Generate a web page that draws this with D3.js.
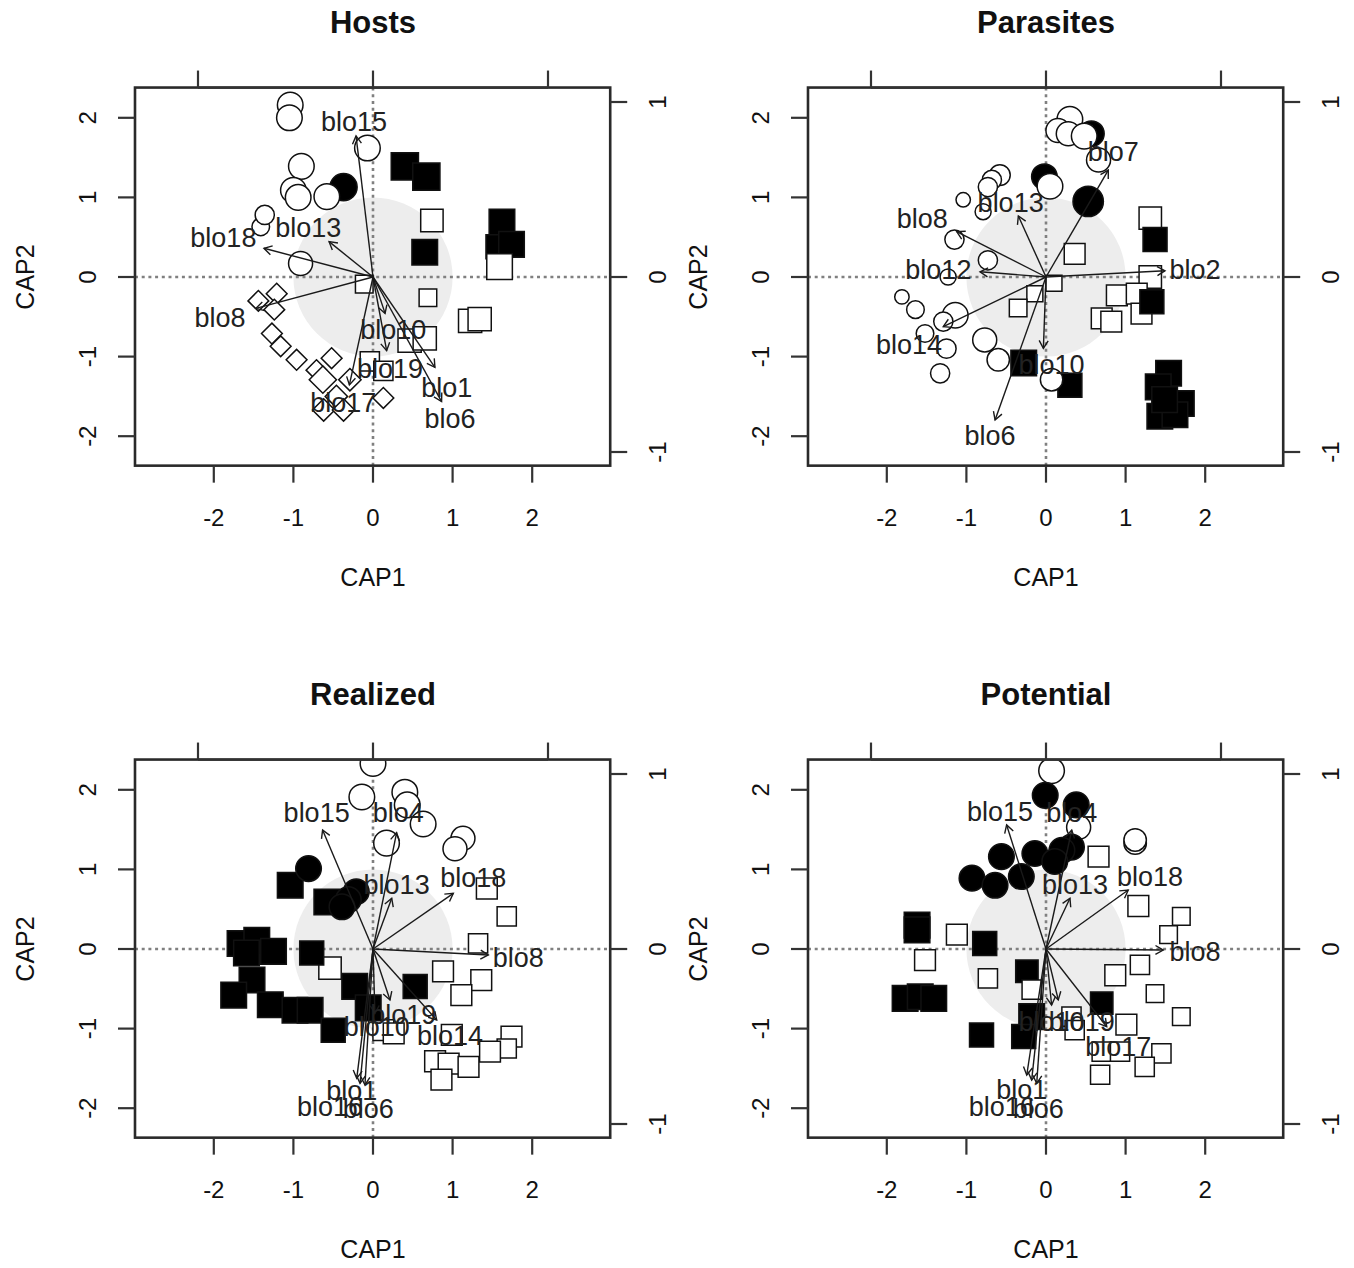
<!DOCTYPE html>
<meta charset="utf-8">
<title>CAP ordinations</title>
<body>
<script src="https://cdn.jsdelivr.net/npm/d3@7"></script>
<style>
html, body {
    margin: 0;
    background: #fff;
}
svg text {
    font-family: "Liberation Sans", Arial, Helvetica, sans-serif;
    fill: #111;
}
</style>
<script>
// site scores: [CAP1, CAP2, cex]
var hostsOpenCircles = [
    [-1.04, 2.16, 1.6], [-1.05, 2.00, 1.6], [-0.07, 1.62, 1.6], [-0.90, 1.39, 1.6],
    [-1.00, 1.09, 1.6], [-0.94, 1.00, 1.6], [-0.58, 1.01, 1.6], [-1.41, 0.63, 1.1],
    [-1.36, 0.78, 1.2], [-0.91, 0.17, 1.5]
];
var hostsFilledCircles = [[-0.37, 1.13, 1.7]];
var hostsOpenSquares = [
    [-0.11, -0.09, 1.1], [0.74, 0.71, 1.4], [0.69, -0.26, 1.1], [1.22, -0.55, 1.45],
    [1.34, -0.53, 1.45], [0.46, -0.80, 1.45], [0.65, -0.77, 1.45], [1.59, 0.13, 1.6],
    [-0.04, -1.06, 1.2], [0.13, -1.18, 1.2]
];
var hostsFilledSquares = [
    [0.40, 1.39, 1.7], [0.67, 1.26, 1.7], [0.65, 0.31, 1.6], [1.62, 0.69, 1.6],
    [1.57, 0.38, 1.5], [1.74, 0.41, 1.6]
];
var hostsDiamonds = [
    [-1.44, -0.30, 1.3], [-1.21, -0.21, 1.3], [-1.24, -0.41, 1.3], [-1.27, -0.71, 1.3],
    [-1.16, -0.87, 1.3], [-0.96, -1.04, 1.3], [-0.71, -1.17, 1.3], [-0.52, -1.02, 1.3],
    [-0.63, -1.29, 1.7], [-0.29, -1.29, 1.4], [-0.46, -1.50, 1.4], [-0.62, -1.67, 1.4],
    [-0.37, -1.67, 1.4], [0.13, -1.52, 1.3]
];
// biplot arrows: [name, x, y, label x, label y]
var hostsArrows = [
    ["blo15", -0.097, 0.806, -0.109, 0.888],
    ["blo13", -0.251, 0.202, -0.370, 0.278],
    ["blo18", -0.623, 0.164, -0.855, 0.221],
    ["blo8", -0.669, -0.179, -0.874, -0.236],
    ["blo10", 0.069, -0.208, 0.116, -0.303],
    ["blo19", 0.078, -0.421, 0.097, -0.528],
    ["blo1", 0.354, -0.516, 0.421, -0.636],
    ["blo6", 0.392, -0.712, 0.440, -0.813],
    ["blo17", -0.135, -0.617, -0.170, -0.718]
];

var parasitesOpenCircles = [
    [0.30, 1.98, 1.6], [0.15, 1.84, 1.5], [0.28, 1.80, 1.5], [0.48, 1.77, 1.6],
    [0.66, 1.47, 1.5], [0.05, 1.14, 1.6], [-0.58, 1.28, 1.3], [-0.68, 1.22, 1.2],
    [-0.73, 1.13, 1.2], [-0.79, 0.82, 1.0], [-1.04, 0.97, 0.9], [-1.15, 0.47, 1.2],
    [-0.73, 0.21, 1.2], [-1.23, 0.00, 1.0], [-1.81, -0.25, 0.9], [-1.64, -0.41, 1.1],
    [-1.14, -0.48, 1.6], [-1.29, -0.56, 1.2], [-1.52, -0.71, 1.1], [-1.25, -0.90, 1.2],
    [-1.33, -1.21, 1.2], [-0.77, -0.79, 1.5], [-0.60, -1.04, 1.4], [0.07, -1.29, 1.4]
];
var parasitesFilledCircles = [[0.57, 1.80, 1.6], [-0.02, 1.26, 1.6], [0.53, 0.95, 1.9]];
var parasitesOpenSquares = [
    [1.31, 0.74, 1.4], [0.36, 0.29, 1.3], [0.10, -0.08, 1.0], [1.31, 0.00, 1.4],
    [0.89, -0.23, 1.3], [1.14, -0.21, 1.3], [1.20, -0.46, 1.3], [0.70, -0.52, 1.3],
    [0.82, -0.56, 1.3], [-0.14, -0.21, 1.0], [-0.35, -0.39, 1.1]
];
var parasitesFilledSquares = [
    [1.37, 0.47, 1.5], [1.33, -0.31, 1.5], [-0.28, -1.08, 1.6], [0.30, -1.36, 1.5],
    [1.54, -1.21, 1.6], [1.41, -1.38, 1.6], [1.70, -1.59, 1.6], [1.43, -1.75, 1.6],
    [1.62, -1.73, 1.6], [1.49, -1.54, 1.6]
];
var parasitesArrows = [
    ["blo7", 0.356, 0.611, 0.385, 0.716],
    ["blo13", -0.158, 0.349, -0.202, 0.425],
    ["blo8", -0.510, 0.259, -0.707, 0.330],
    ["blo12", -0.377, 0.030, -0.615, 0.040],
    ["blo2", 0.680, 0.036, 0.851, 0.040],
    ["blo14", -0.587, -0.284, -0.783, -0.389],
    ["blo10", -0.015, -0.408, 0.032, -0.503],
    ["blo6", -0.291, -0.817, -0.320, -0.909]
];

var realizedOpenCircles = [
    [0.00, 2.33, 1.6], [-0.14, 1.91, 1.6], [0.40, 1.97, 1.6], [0.43, 1.81, 1.6],
    [0.63, 1.57, 1.6], [0.17, 1.33, 1.6], [1.13, 1.39, 1.5], [1.03, 1.26, 1.5]
];
var realizedFilledCircles = [[-0.81, 1.01, 1.6], [-0.21, 0.72, 1.6], [-0.31, 0.62, 1.6], [-0.39, 0.53, 1.6]];
var realizedOpenSquares = [
    [-0.54, -0.24, 1.4], [1.43, 0.76, 1.3], [1.68, 0.41, 1.2], [1.32, 0.07, 1.2],
    [0.88, -0.28, 1.3], [1.36, -0.39, 1.3], [1.11, -0.58, 1.3], [0.13, -1.02, 1.3],
    [0.26, -1.06, 1.3], [0.99, -1.08, 1.3], [1.74, -1.10, 1.3], [1.68, -1.25, 1.2],
    [1.47, -1.29, 1.3], [0.78, -1.41, 1.3], [0.95, -1.44, 1.3], [1.20, -1.48, 1.3],
    [0.86, -1.64, 1.3]
];
var realizedFilledSquares = [
    [-1.04, 0.80, 1.6], [-0.58, 0.59, 1.6], [-1.67, 0.07, 1.6], [-1.46, 0.11, 1.6],
    [-1.25, -0.03, 1.6], [-1.59, -0.05, 1.6], [-0.77, -0.05, 1.5], [-1.52, -0.39, 1.6],
    [-1.75, -0.58, 1.6], [-1.29, -0.70, 1.6], [-0.98, -0.77, 1.6], [-0.79, -0.77, 1.6],
    [-0.50, -1.02, 1.5], [-0.23, -0.47, 1.6], [-0.06, -0.74, 1.6], [0.53, -0.47, 1.5]
];
var realizedArrows = [
    ["blo15", -0.288, 0.680, -0.322, 0.775],
    ["blo4", 0.135, 0.665, 0.145, 0.775],
    ["blo13", 0.107, 0.290, 0.135, 0.366],
    ["blo18", 0.459, 0.318, 0.573, 0.404],
    ["blo8", 0.659, -0.034, 0.830, -0.053],
    ["blo19", 0.097, -0.291, 0.173, -0.377],
    ["blo14", 0.364, -0.406, 0.440, -0.497],
    ["blo10", 0.011, -0.368, 0.021, -0.444],
    ["blo1", -0.093, -0.739, -0.122, -0.810],
    ["blo16", -0.074, -0.768, -0.246, -0.905],
    ["blo6", -0.046, -0.777, -0.027, -0.916]
];

var potentialOpenCircles = [[0.07, 2.24, 1.6], [0.41, 1.53, 1.5], [1.12, 1.33, 1.4], [1.12, 1.37, 1.4]];
var potentialFilledCircles = [
    [-0.01, 1.93, 1.6], [0.38, 1.81, 1.6], [0.32, 1.28, 1.6], [0.20, 1.24, 1.6],
    [-0.56, 1.16, 1.6], [-0.14, 1.20, 1.6], [0.11, 1.10, 1.6], [-0.31, 0.91, 1.6],
    [-0.93, 0.89, 1.6], [-0.64, 0.80, 1.6]
];
var potentialOpenSquares = [
    [-1.12, 0.18, 1.3], [-1.52, -0.14, 1.3], [-0.73, -0.37, 1.2], [-0.18, -0.51, 1.2],
    [0.66, 1.16, 1.3], [1.16, 0.54, 1.3], [1.70, 0.41, 1.1], [1.54, 0.18, 1.1],
    [1.18, -0.20, 1.2], [0.87, -0.33, 1.3], [1.37, -0.56, 1.1], [1.70, -0.85, 1.1],
    [0.32, -0.85, 1.2], [0.36, -1.02, 1.2], [1.01, -0.95, 1.3], [1.45, -1.31, 1.2],
    [1.24, -1.48, 1.2], [0.70, -1.29, 1.2], [0.68, -1.58, 1.2], [0.93, -1.29, 1.2]
];
var potentialFilledSquares = [
    [-1.62, 0.30, 1.6], [-1.62, 0.24, 1.6], [-0.77, 0.07, 1.5], [-0.24, -0.28, 1.4],
    [-1.77, -0.62, 1.6], [-1.58, -0.60, 1.6], [-1.41, -0.62, 1.6], [-0.81, -1.08, 1.5],
    [-0.18, -0.85, 1.6], [-0.28, -1.10, 1.5], [0.70, -0.68, 1.4]
];
var potentialArrows = [
    ["blo15", -0.225, 0.709, -0.263, 0.785],
    ["blo4", 0.147, 0.680, 0.147, 0.775],
    ["blo13", 0.137, 0.290, 0.166, 0.366],
    ["blo18", 0.470, 0.337, 0.594, 0.413],
    ["blo8", 0.670, -0.006, 0.851, -0.015],
    ["blo19", 0.070, -0.291, 0.204, -0.415],
    ["blo10", 0.032, -0.320, 0.032, -0.415],
    ["blo17", 0.347, -0.444, 0.413, -0.558],
    ["blo1", -0.110, -0.720, -0.139, -0.806],
    ["blo16", -0.082, -0.749, -0.253, -0.905],
    ["blo6", -0.053, -0.768, -0.044, -0.916]
];

var siteTicks = [-2, -1, 0, 1, 2];
var arrowTicks = [-1, 0, 1];
var xLabel = "CAP1", yLabel = "CAP2";

var panels = [
    { title: "Hosts", col: 0, row: 0, arrows: hostsArrows,
      layers: [["circle", "#000", hostsFilledCircles], ["circle", "#fff", hostsOpenCircles],
               ["square", "#000", hostsFilledSquares], ["square", "#fff", hostsOpenSquares],
               ["diamond", "#fff", hostsDiamonds]] },
    { title: "Parasites", col: 1, row: 0, arrows: parasitesArrows,
      layers: [["square", "#fff", parasitesOpenSquares], ["square", "#000", parasitesFilledSquares],
               ["circle", "#000", parasitesFilledCircles], ["circle", "#fff", parasitesOpenCircles]] },
    { title: "Realized", col: 0, row: 1, arrows: realizedArrows,
      layers: [["square", "#fff", realizedOpenSquares], ["square", "#000", realizedFilledSquares],
               ["circle", "#fff", realizedOpenCircles], ["circle", "#000", realizedFilledCircles]] },
    { title: "Potential", col: 1, row: 1, arrows: potentialArrows,
      layers: [["square", "#000", potentialFilledSquares], ["square", "#fff", potentialOpenSquares],
               ["circle", "#fff", potentialOpenCircles], ["circle", "#000", potentialFilledCircles]] }
];

var width = 1354, height = 1268,
    unit = 79.6,      // px per site-score unit
    aunit = 175,      // px per biplot-score unit
    sym = 16;         // symbol size at cex 1

var svg = d3.select("body").append("svg")
    .attr("width", width)
    .attr("height", height);

panels.forEach(function(p, i) {
    var x0 = 373 + p.col * 673,
        y0 = 277 + p.row * 672;

    var x = d3.scaleLinear().domain([-2, 2]).range([x0 - 2 * unit, x0 + 2 * unit]),
        y = d3.scaleLinear().domain([-2, 2]).range([y0 + 2 * unit, y0 - 2 * unit]),
        ax = d3.scaleLinear().domain([-1, 1]).range([x0 - aunit, x0 + aunit]),
        ay = d3.scaleLinear().domain([-1, 1]).range([y0 + aunit, y0 - aunit]);

    var left = x(-2.99), right = x(2.98), top = y(2.38), bottom = y(-2.37);

    var g = svg.append("g");

    svg.append("clipPath").attr("id", "clip" + i)
        .append("rect")
        .attr("x", left).attr("y", top)
        .attr("width", right - left).attr("height", bottom - top);

    var inner = g.append("g").attr("clip-path", "url(#clip" + i + ")");

    // grey disc of radius 1
    inner.append("ellipse")
        .attr("cx", x(0)).attr("cy", y(0))
        .attr("rx", x(1) - x(0)).attr("ry", y(0) - y(1))
        .attr("fill", "#ededed");

    // dotted zero lines
    inner.append("line")
        .attr("x1", left).attr("x2", right).attr("y1", y(0)).attr("y2", y(0))
        .attr("stroke", "#808080").attr("stroke-width", 2.6).attr("stroke-dasharray", "3,3.7");
    inner.append("line")
        .attr("y1", top).attr("y2", bottom).attr("x1", x(0)).attr("x2", x(0))
        .attr("stroke", "#808080").attr("stroke-width", 2.6).attr("stroke-dasharray", "3,3.7");

    // sites
    p.layers.forEach(function(layer) {
        var shape = layer[0], fill = layer[1], pts = layer[2];
        inner.append("g").selectAll("path").data(pts).enter().append("path")
            .attr("fill", fill)
            .attr("stroke", "#111")
            .attr("stroke-width", 1.5)
            .attr("d", function(d) {
                var cx = x(d[0]), cy = y(d[1]), s = sym * d[2] / 2;
                if (shape == "circle") {
                    var c = d3.path();
                    c.arc(cx, cy, s, 0, 2 * Math.PI);
                    c.closePath();
                    return c.toString();
                }
                if (shape == "square")
                    return "M" + (cx - s) + "," + (cy - s) + "h" + 2 * s + "v" + 2 * s + "h" + -2 * s + "Z";
                return "M" + cx + "," + (cy - s) + "L" + (cx + s) + "," + cy + "L" + cx + "," + (cy + s) + "L" + (cx - s) + "," + cy + "Z";
            });
    });

    // biplot arrows
    var ag = inner.append("g").attr("stroke", "#1a1a1a").attr("stroke-width", 1.4).attr("fill", "none");
    p.arrows.forEach(function(a) {
        var x1 = ax(a[1]), y1 = ay(a[2]), xs = ax(0), ys = ay(0);
        var ang = Math.atan2(y1 - ys, x1 - xs), h = 9, w = Math.PI / 6;
        ag.append("line").attr("x1", xs).attr("y1", ys).attr("x2", x1).attr("y2", y1);
        ag.append("path").attr("d",
            "M" + (x1 - h * Math.cos(ang - w)) + "," + (y1 - h * Math.sin(ang - w)) +
            "L" + x1 + "," + y1 +
            "L" + (x1 - h * Math.cos(ang + w)) + "," + (y1 - h * Math.sin(ang + w)));
    });
    inner.append("g").selectAll("text").data(p.arrows).enter().append("text")
        .attr("x", function(a) { return ax(a[3]); })
        .attr("y", function(a) { return ay(a[4]); })
        .attr("text-anchor", "middle")
        .attr("dominant-baseline", "central")
        .style("font-size", "27px")
        .style("fill", "#222")
        .text(function(a) { return a[0]; });

    // box
    g.append("rect")
        .attr("x", left).attr("y", top)
        .attr("width", right - left).attr("height", bottom - top)
        .attr("fill", "none").attr("stroke", "#2a2a2a").attr("stroke-width", 2.6);

    var tk = 17, tickColor = "#333", tickW = 2.2;

    // bottom axis
    g.append("g").selectAll("line").data(siteTicks).enter().append("line")
        .attr("x1", x).attr("x2", x).attr("y1", bottom).attr("y2", bottom + tk)
        .attr("stroke", tickColor).attr("stroke-width", tickW);
    g.append("g").selectAll("text").data(siteTicks).enter().append("text")
        .attr("x", x).attr("y", bottom + 60)
        .attr("text-anchor", "middle")
        .style("font-size", "24px")
        .text(function(d) { return d; });

    // left axis
    g.append("g").selectAll("line").data(siteTicks).enter().append("line")
        .attr("y1", y).attr("y2", y).attr("x1", left).attr("x2", left - tk)
        .attr("stroke", tickColor).attr("stroke-width", tickW);
    g.append("g").selectAll("text").data(siteTicks).enter().append("text")
        .attr("transform", function(d) { return "translate(" + (left - 47) + "," + y(d) + ") rotate(-90)"; })
        .attr("text-anchor", "middle")
        .attr("dominant-baseline", "central")
        .style("font-size", "24px")
        .text(function(d) { return d; });

    // top axis (biplot scale, no labels)
    g.append("g").selectAll("line").data(arrowTicks).enter().append("line")
        .attr("x1", ax).attr("x2", ax).attr("y1", top).attr("y2", top - tk)
        .attr("stroke", tickColor).attr("stroke-width", tickW);
    g.append("line")
        .attr("x1", ax(-1)).attr("x2", ax(1)).attr("y1", top).attr("y2", top)
        .attr("stroke", tickColor).attr("stroke-width", tickW);

    // right axis (biplot scale)
    g.append("g").selectAll("line").data(arrowTicks).enter().append("line")
        .attr("y1", ay).attr("y2", ay).attr("x1", right).attr("x2", right + tk)
        .attr("stroke", tickColor).attr("stroke-width", tickW);
    g.append("g").selectAll("text").data(arrowTicks).enter().append("text")
        .attr("transform", function(d) { return "translate(" + (right + 47) + "," + ay(d) + ") rotate(-90)"; })
        .attr("text-anchor", "middle")
        .attr("dominant-baseline", "central")
        .style("font-size", "24px")
        .text(function(d) { return d; });

    // axis titles and main title
    g.append("text")
        .attr("x", x(0)).attr("y", bottom + 120)
        .attr("text-anchor", "middle")
        .style("font-size", "25px")
        .text(xLabel);
    g.append("text")
        .attr("transform", "translate(" + (x0 - 348) + "," + y0 + ") rotate(-90)")
        .attr("text-anchor", "middle")
        .attr("dominant-baseline", "central")
        .style("font-size", "25px")
        .text(yLabel);
    g.append("text")
        .attr("x", x0).attr("y", y0 - 244)
        .attr("text-anchor", "middle")
        .style("font-size", "31px")
        .style("font-weight", "bold")
        .text(p.title);
});
</script>
